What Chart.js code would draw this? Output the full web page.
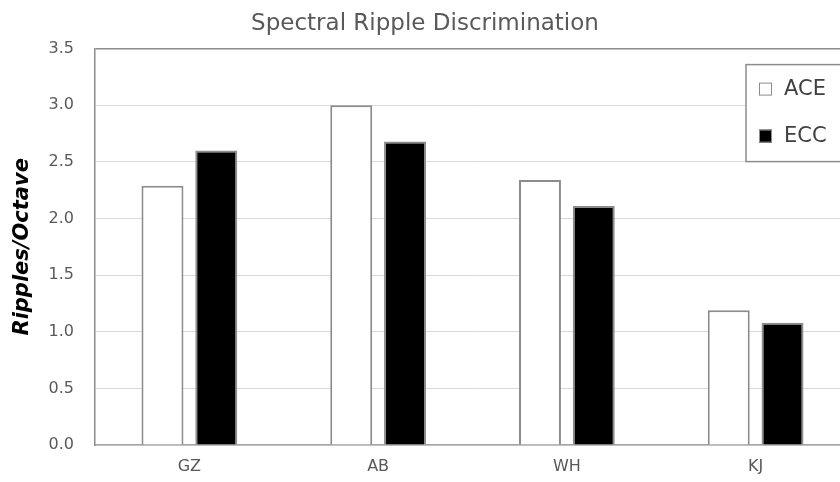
<!DOCTYPE html>
<html>
<head>
<meta charset="utf-8">
<script src="https://cdn.jsdelivr.net/npm/chart.js@4/dist/chart.umd.min.js"></script>
<style>
  html, body { margin: 0; padding: 0; background: #fff; overflow: hidden; }
  #wrap { width: 866px; height: 482px; }
</style>
</head>
<body>
<div id="wrap"><canvas id="chart"></canvas></div>
<script>
const subjects = ['GZ', 'AB', 'WH', 'KJ'];
const aceValues = [2.29, 3.0, 2.34, 1.19];
const eccValues = [2.60, 2.68, 2.11, 1.08];
const yTicks = [0, 0.5, 1.0, 1.5, 2.0, 2.5, 3.0, 3.5];

// legend box drawn inside the plot, top right (Excel style)
const boxLegend = {
    id: 'boxLegend',
    afterDraw(chart) {
        const { ctx, chartArea } = chart;
        const x = chartArea.right - 104;
        const y = chartArea.top + 16;
        ctx.save();
        ctx.fillStyle = '#fff';
        ctx.strokeStyle = '#8c8c8c';
        ctx.lineWidth = 1.5;
        ctx.fillRect(x, y, 120, 97);
        ctx.strokeRect(x, y, 120, 97);
        ctx.font = '21px "DejaVu Sans"';
        ctx.textBaseline = 'middle';
        chart.data.datasets.forEach((ds, i) => {
            const cy = y + 24 + i * 47;
            ctx.fillStyle = ds.backgroundColor;
            ctx.fillRect(x + 13, cy - 6, 13, 13);
            ctx.strokeStyle = ds.borderColor;
            ctx.lineWidth = 1;
            ctx.strokeRect(x + 13.5, cy - 5.5, 12, 12);
            ctx.fillStyle = '#404040';
            ctx.fillText(ds.label, x + 38, cy + 1);
        });
        ctx.restore();
    }
};

const ctx = document.getElementById('chart').getContext('2d');
new Chart(ctx, {
    type: 'bar',
    data: {
        labels: subjects,
        datasets: [
            {
                label: 'ACE',
                data: aceValues,
                backgroundColor: '#ffffff',
                borderColor: '#8c8c8c',
                borderWidth: 2
            },
            {
                label: 'ECC',
                data: eccValues,
                backgroundColor: '#000000',
                borderColor: '#8c8c8c',
                borderWidth: 2
            }
        ]
    },
    options: {
        responsive: true,
        maintainAspectRatio: false,
        animation: false,
        categoryPercentage: 0.57,
        barPercentage: 0.78,
        layout: { padding: { right: 16 } },
        plugins: {
            legend: { display: false },
            tooltip: { enabled: false },
            title: {
                display: true,
                text: 'Spectral Ripple Discrimination',
                color: '#595959',
                font: { family: 'DejaVu Sans', size: 23, weight: 'normal' },
                padding: { top: 10, bottom: 11 }
            }
        },
        scales: {
            x: {
                grid: { display: false, drawTicks: false },
                border: { color: '#a6a6a6', width: 1.5 },
                ticks: {
                    color: '#595959',
                    font: { family: 'DejaVu Sans', size: 16 },
                    padding: 12
                },
                afterFit: (scale) => { scale.height = 37; }
            },
            y: {
                min: 0,
                max: 3.5,
                afterBuildTicks: (scale) => {
                    scale.ticks = yTicks.map(v => ({ value: v }));
                },
                grid: {
                    drawTicks: false,
                    color: (c) => c.tick && c.tick.value === 3.5 ? '#8c8c8c' : '#d9d9d9',
                    lineWidth: (c) => c.tick && c.tick.value === 3.5 ? 1.5 : 1
                },
                border: { color: '#8c8c8c', width: 1.5 },
                ticks: {
                    color: '#595959',
                    font: { family: 'DejaVu Sans', size: 16 },
                    padding: 21,
                    callback: (v) => Number(v).toFixed(1)
                },
                title: {
                    display: true,
                    text: 'Ripples/Octave',
                    color: '#000',
                    font: { family: 'DejaVu Sans', size: 21, weight: 'bold', style: 'italic' },
                    padding: { top: 10, bottom: 0 }
                },
                afterFit: (scale) => { scale.width = 95; }
            }
        }
    },
    plugins: [boxLegend]
});
</script>
</body>
</html>
